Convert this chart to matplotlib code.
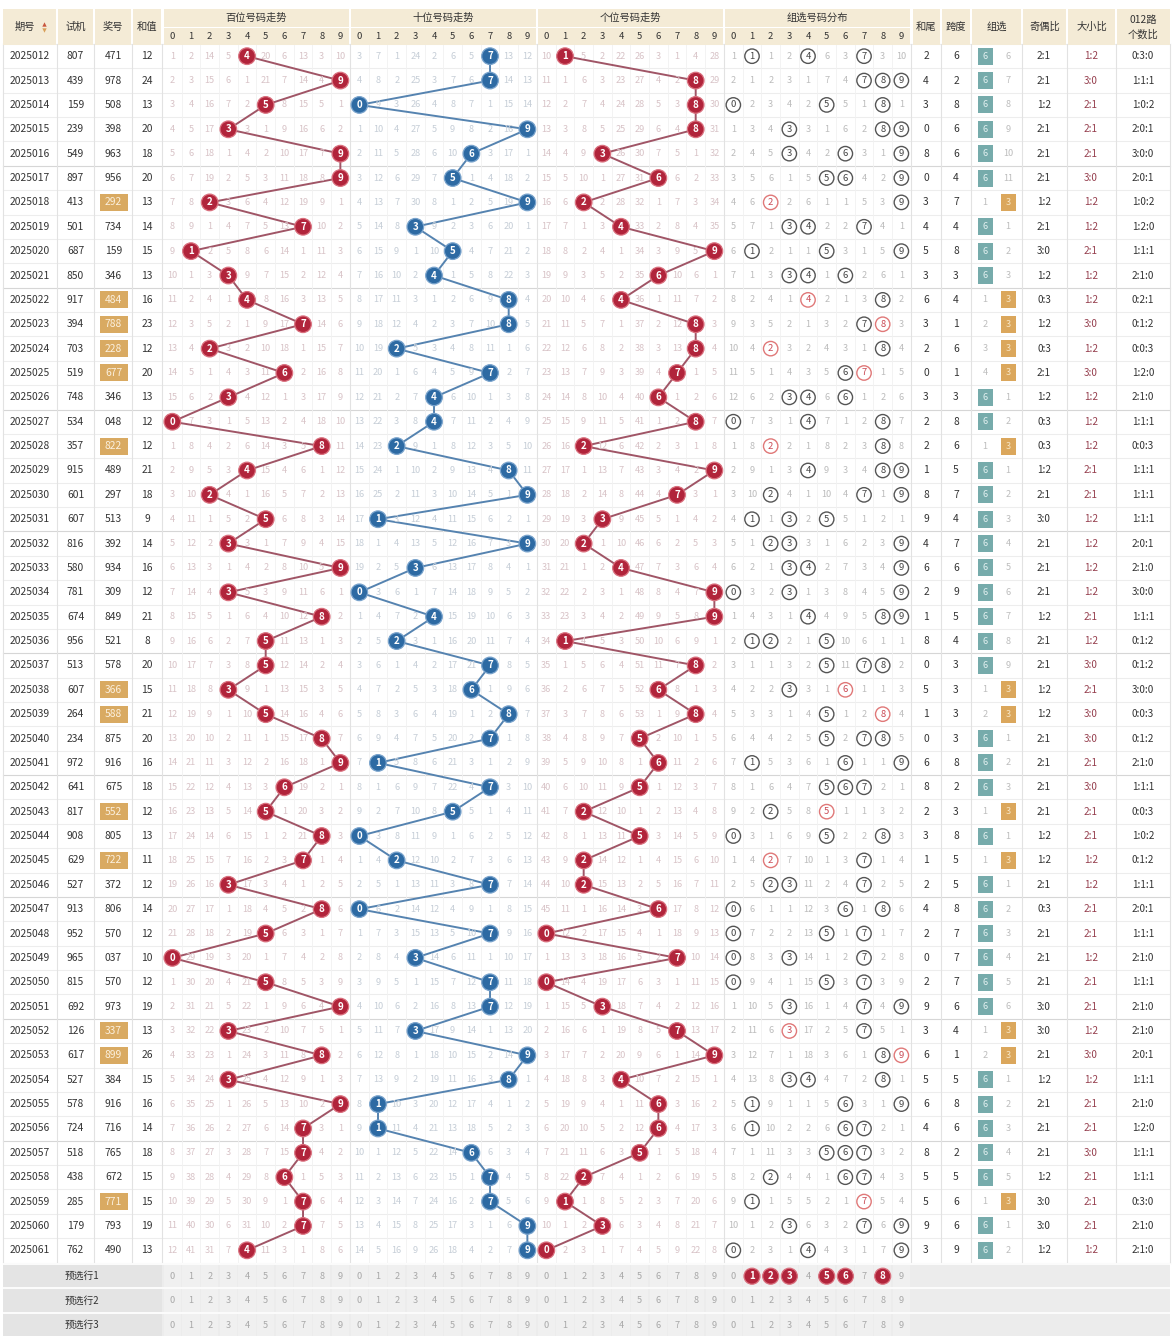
"""
plot.py

Lottery 3D trend table: 百位/十位/个位 trends, 组选 distribution and stats.
Output: out.png
"""

import matplotlib
matplotlib.use("Agg")
import matplotlib.pyplot as plt
from matplotlib.patches import Circle, Rectangle

plt.rcParams["font.family"] = ["Noto Sans CJK SC", "DejaVu Sans"]

# ---------------------------------------------------------------- data
ISSUES = [str(2025000 + n) for n in range(12, 62)]

TEST_NUMS = [
    "807", "439", "159", "239", "549", "897", "413", "501", "687", "850",
    "917", "394", "703", "519", "748", "534", "357", "915", "601", "607",
    "816", "580", "781", "674", "956", "513", "607", "264", "234", "972",
    "641", "817", "908", "629", "527", "913", "952", "965", "815", "692",
    "126", "617", "527", "578", "724", "518", "438", "285", "179", "762",
]

DRAWS = [
    "471", "978", "508", "398", "963", "956", "292", "734", "159", "346",
    "484", "788", "228", "677", "346", "048", "822", "489", "297", "513",
    "392", "934", "309", "849", "521", "578", "366", "588", "875", "916",
    "675", "552", "805", "722", "372", "806", "570", "037", "570", "973",
    "337", "899", "384", "916", "716", "765", "672", "771", "793", "490",
]

# omission values shown on the first row (hit digit = 0)
INIT_BAI = [1, 2, 14, 5, 0, 20, 6, 13, 3, 10]
INIT_SHI = [3, 7, 1, 24, 2, 6, 5, 0, 13, 12]
INIT_GE = [10, 0, 5, 2, 22, 26, 3, 1, 4, 28]
INIT_ZU = [1, 0, 1, 2, 0, 6, 3, 0, 3, 10]
INIT_G6_MISS = 0
INIT_G3_MISS = 6

PRESELECT_ROW1 = [1, 2, 3, 5, 6, 8]
FOOTER_LABELS = ["预选行1", "预选行2", "预选行3"]

# ---------------------------------------------------------------- layout
W, H = 1176, 1336
ROW_Y0 = 44.0
ROW_H = 24.37
CELL = 18.67
SEC_X0 = {"bai": 163.0, "shi": 350.0, "ge": 537.0, "zu": 724.0}
FOOT_Y0 = 1264.0
FOOT_H = 24.4

TXT = "#333333"
HEAD_BG = "#f4ebd6"
RED = "#b1243b"
BLUE = "#2d6aa3"
MISS_FS = 6.6


def trend(digits, init):
    rows = []
    miss = list(init)
    for i, d in enumerate(digits):
        if i > 0:
            miss = [0 if k == d else m + 1 for k, m in enumerate(miss)]
        rows.append(list(miss))
    return rows


def zu_trend(sets, init):
    rows = []
    miss = list(init)
    for i, s in enumerate(sets):
        if i > 0:
            miss = [0 if k in s else m + 1 for k, m in enumerate(miss)]
        rows.append(list(miss))
    return rows


def ycen(i):
    return ROW_Y0 + (i + 0.5) * ROW_H


def xcell(sec, k):
    return SEC_X0[sec] + (k + 0.5) * CELL


bai = [int(d[0]) for d in DRAWS]
shi = [int(d[1]) for d in DRAWS]
ge = [int(d[2]) for d in DRAWS]
sets = [set(int(c) for c in d) for d in DRAWS]

miss_bai = trend(bai, INIT_BAI)
miss_shi = trend(shi, INIT_SHI)
miss_ge = trend(ge, INIT_GE)
miss_zu = zu_trend(sets, INIT_ZU)

fig = plt.figure(figsize=(W / 100, H / 100), dpi=100)
ax = fig.add_axes([0, 0, 1, 1])
ax.set_xlim(0, W)
ax.set_ylim(H, 0)
ax.axis("off")

# ---------------------------------------------------------------- header
single_cols = [
    ("期号", 3, 56), ("试机", 58, 93), ("奖号", 95, 131), ("和值", 133, 161),
    ("和尾", 913, 940), ("跨度", 942, 970), ("组选", 972, 1021),
    ("奇偶比", 1023, 1066), ("大小比", 1068, 1115), ("012路\n个数比", 1117, 1170),
]
for label, x0, x1 in single_cols:
    ax.add_patch(Rectangle((x0, 9), x1 - x0, 36, fc=HEAD_BG, ec="none"))
    tx = (x0 + x1) / 2 - (5 if label == "期号" else 0)
    ax.text(tx, 27, label, ha="center", va="center", fontsize=7.4,
            color=TXT, linespacing=1.5)
# sort arrows next to 期号
ax.scatter([43.5], [23.5], marker="^", s=10, c="#c8553d", lw=0)
ax.scatter([43.5], [30.0], marker="v", s=10, c="#d9a05a", lw=0)

sec_titles = {"bai": "百位号码走势", "shi": "十位号码走势",
              "ge": "个位号码走势", "zu": "组选号码分布"}
for sec, title in sec_titles.items():
    x0 = SEC_X0[sec]
    ax.add_patch(Rectangle((x0 + 1, 9), 10 * CELL - 2, 18, fc=HEAD_BG, ec="none"))
    ax.add_patch(Rectangle((x0 + 1, 28), 10 * CELL - 2, 17, fc=HEAD_BG, ec="none"))
    ax.text(x0 + 5 * CELL, 17.5, title, ha="center", va="center",
            fontsize=7.4, color=TXT)
    for k in range(10):
        ax.text(xcell(sec, k), 36.5, str(k), ha="center", va="center",
                fontsize=6.8, color=TXT)

# ---------------------------------------------------------------- grid
n = len(DRAWS)
y_end = ROW_Y0 + n * ROW_H
for i in range(n + 1):
    y = ROW_Y0 + i * ROW_H
    col = "#d6d6d6" if i % 5 == 0 and i not in (0, n) else "#ededed"
    ax.plot([3, 1170], [y, y], color=col, lw=0.8, zorder=0)
vlines = [3, 57, 94, 132, 162, 350, 537, 724, 911, 941, 971, 1022, 1067,
          1116, 1170]
for x in vlines:
    ax.plot([x, x], [ROW_Y0, y_end], color="#e2e2e2", lw=0.8, zorder=0)
for sec in SEC_X0:
    for k in range(1, 10):
        x = SEC_X0[sec] + k * CELL
        ax.plot([x, x], [ROW_Y0, y_end], color="#f1f1f1", lw=0.6, zorder=0)

# ---------------------------------------------------------------- rows
for i in range(n):
    y = ycen(i)
    d = DRAWS[i]
    digs = [int(c) for c in d]
    is_g3 = len(set(digs)) == 2

    ax.text(30, y, ISSUES[i], ha="center", va="center", fontsize=7.4, color=TXT)
    ax.text(75.5, y, TEST_NUMS[i], ha="center", va="center", fontsize=7.4,
            color=TXT)
    if is_g3:
        ax.add_patch(Rectangle((99.5, y - 8.5), 28, 17, fc="#d9aa62", ec="none"))
        ax.text(113.5, y, d, ha="center", va="center", fontsize=7.4,
                color="#fbf0de")
    else:
        ax.text(113.5, y, d, ha="center", va="center", fontsize=7.4, color=TXT)
    ax.text(147, y, str(sum(digs)), ha="center", va="center", fontsize=7.4,
            color=TXT)

    # trend omission numbers
    for sec, miss, hit, mc in (("bai", miss_bai, bai, "#d8c3c7"),
                               ("shi", miss_shi, shi, "#c6ced7"),
                               ("ge", miss_ge, ge, "#d8c3c7")):
        for k in range(10):
            if k != hit[i]:
                ax.text(xcell(sec, k), y, str(miss[i][k]), ha="center",
                        va="center", fontsize=MISS_FS, color=mc)

    # 组选 distribution
    for k in range(10):
        x = xcell("zu", k)
        if k in sets[i]:
            pair = digs.count(k) == 2
            ec = "#e07878" if pair else "#555555"
            tc = "#c94a55" if pair else "#444444"
            ax.add_patch(Circle((x, y), 7.2, fc="white", ec=ec, lw=1.0, zorder=3))
            ax.text(x, y, str(k), ha="center", va="center", fontsize=6.8,
                    color=tc, zorder=4)
        else:
            ax.text(x, y, str(miss_zu[i][k]), ha="center", va="center",
                    fontsize=MISS_FS, color="#bcbcbc")

    # stats
    span = max(digs) - min(digs)
    odd = sum(1 for v in digs if v % 2)
    big = sum(1 for v in digs if v >= 5)
    r012 = [sum(1 for v in digs if v % 3 == r) for r in range(3)]
    ax.text(926, y, str(sum(digs) % 10), ha="center", va="center",
            fontsize=7.4, color=TXT)
    ax.text(956, y, str(span), ha="center", va="center", fontsize=7.4,
            color=TXT)
    ax.text(1044, y, f"{odd}:{3 - odd}", ha="center", va="center",
            fontsize=7.2, color=TXT)
    ax.text(1091, y, f"{big}:{3 - big}", ha="center", va="center",
            fontsize=7.2, color="#96404f")
    ax.text(1143, y, ":".join(str(v) for v in r012), ha="center",
            va="center", fontsize=7.2, color=TXT)

# 组选 column (group6 / group3 with omission)
g6_miss, g3_miss = INIT_G6_MISS, INIT_G3_MISS
for i in range(n):
    y = ycen(i)
    is_g3 = len(sets[i]) == 2
    if i > 0:
        g6_miss = g6_miss + 1 if is_g3 else 0
        g3_miss = 0 if is_g3 else g3_miss + 1
    if is_g3:
        ax.text(985, y, str(g6_miss), ha="center", va="center", fontsize=MISS_FS,
                color="#bdbdbd")
        ax.add_patch(Rectangle((1000.5, y - 8.5), 15, 17, fc="#dba75c", ec="none"))
        ax.text(1008, y, "3", ha="center", va="center", fontsize=6.6,
                color="#f8e6c4")
    else:
        ax.add_patch(Rectangle((977.5, y - 8.5), 15, 17, fc="#76abab", ec="none"))
        ax.text(985, y, "6", ha="center", va="center", fontsize=6.6,
                color="#e2f0f0")
        ax.text(1008, y, str(g3_miss), ha="center", va="center", fontsize=MISS_FS,
                color="#bdbdbd")

# trend lines and balls
for sec, hit, face, edge, lc in (("bai", bai, RED, "#d9707e", "#a05566"),
                                 ("shi", shi, BLUE, "#79a3cc", "#5583b0"),
                                 ("ge", ge, RED, "#d9707e", "#a05566")):
    xs = [xcell(sec, v) for v in hit]
    ys = [ycen(i) for i in range(n)]
    ax.plot(xs, ys, color=lc, lw=1.4, zorder=2, solid_capstyle="round")
    for x, y, v in zip(xs, ys, hit):
        ax.add_patch(Circle((x, y), 8.3, fc=face, ec=edge, lw=0.9, zorder=5))
        ax.text(x, y, str(v), ha="center", va="center", fontsize=7.0,
                color="white", fontweight="bold", zorder=6)

# ---------------------------------------------------------------- footer
ax.add_patch(Rectangle((3, FOOT_Y0), 1167, 3 * FOOT_H + 2, fc="#ececec",
                       ec="none", zorder=0))
for r, label in enumerate(FOOTER_LABELS):
    y0 = FOOT_Y0 + r * FOOT_H
    y = y0 + FOOT_H / 2
    ax.add_patch(Rectangle((3, y0 + 1), 159, FOOT_H - 2, fc="#e4e4e4",
                           ec="none", zorder=1))
    ax.text(82, y, label, ha="center", va="center", fontsize=7.0, color=TXT)
    for sec in SEC_X0:
        for k in range(10):
            x = xcell(sec, k)
            ax.add_patch(Rectangle((x - CELL / 2 + 0.6, y0 + 1), CELL - 1.2,
                                   FOOT_H - 2, fc="#f0f0f0", ec="none",
                                   zorder=1))
            if r == 0 and sec == "zu" and k in PRESELECT_ROW1:
                ax.add_patch(Circle((x, y), 8.0, fc=RED, ec="#d9707e",
                                    lw=0.9, zorder=5))
                ax.text(x, y, str(k), ha="center", va="center", fontsize=7.0,
                        color="white", fontweight="bold", zorder=6)
            else:
                ax.text(x, y, str(k), ha="center", va="center", fontsize=6.6,
                        color="#a8a8a8", zorder=2)
    ax.plot([3, 1170], [y0, y0], color="white", lw=1.2, zorder=2)

fig.savefig("out.png", dpi=100)
plt.close(fig)
